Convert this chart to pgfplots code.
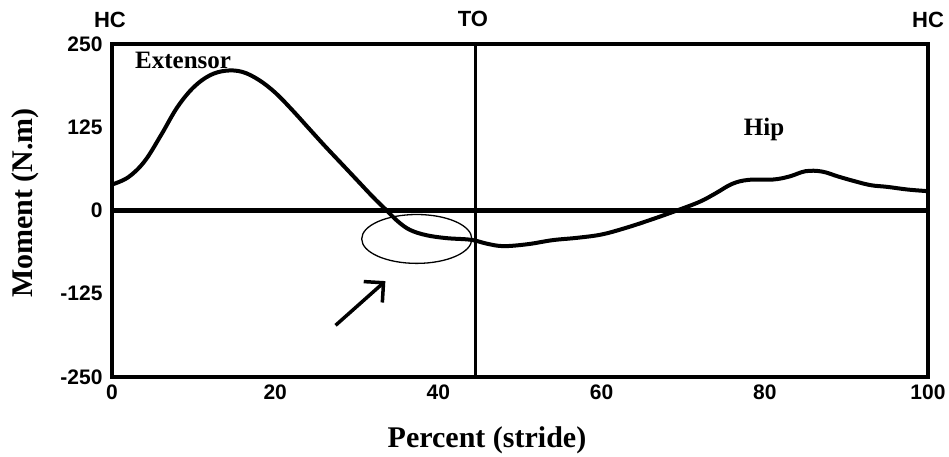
\documentclass[border=0pt]{standalone}
\usepackage{fontspec}
\setmainfont{Liberation Serif}
\newfontfamily\sansf{Liberation Sans}
\usepackage{pgfplots}
\pgfplotsset{compat=1.18}
\usetikzlibrary{arrows.meta}

\begin{document}
\begin{tikzpicture}
\begin{axis}[at={(0pt,0pt)}, anchor=south west, scale only axis,
  width=816pt, height=333pt,
  xmin=0, xmax=100, ymin=-250, ymax=250,
  xtick={0,20,40,60,80,100}, xticklabels={0,20,40,60,80,100},
  ytick={-250,-125,0,125,250}, yticklabels={-250,-125,0,125,250},
  major tick length=0pt,
  tick label style={font=\fontsize{21}{21}\selectfont\sansf\bfseries},
  xticklabel style={yshift=-4pt},
  yticklabel style={xshift=-6pt},
  axis line style={line width=3.5pt},
  clip=false,
]
% zero line
\addplot[black, line width=4.5pt] coordinates {(0,0) (100,0)};
% toe-off line
\addplot[black, line width=3pt] coordinates {(44.5,-250) (44.5,250)};
% hip moment
\addplot[black, line width=4pt, smooth, tension=0.6] coordinates {
(0,39) (2,50) (4,74) (6,113) (8,155) (10,185) (12,203) (14,210)
(16,208) (18,196) (20,177) (22,152) (24,125) (26,98) (28,72)
(30,46) (32,20) (33.5,2) (35,-16) (36.5,-29) (38.5,-37)
(41,-41.5) (44,-44) (46,-50) (48,-53.5) (51,-50.5) (54,-44.5)
(57,-41) (60,-36) (63,-26) (66,-14) (69,-1) (72,13) (74,26)
(76,40) (78,46) (81,46.5) (83,51) (85,59) (87,58.5) (89,51)
(91,44) (93,38) (95,35.5) (97.5,31.5) (100,29)};
% annotation
\draw[line width=1.3pt] (axis cs:37.35,-42.7) ellipse [x radius=6.75, y radius=36.7];
\draw[line width=3.5pt, -{Straight Barb[length=14pt,width=28pt]}]
  (axis cs:27.4,-172.4) -- (axis cs:33.5,-106);
\end{axis}
% labels
\node[rotate=90, font=\fontsize{30}{30}\selectfont\bfseries] at (-87pt,174pt) {Moment (N.m)};
\node[anchor=base, font=\fontsize{30}{30}\selectfont\bfseries] at (375pt,-70pt) {Percent (stride)};
\node[font=\fontsize{22}{22}\selectfont\sansf\bfseries] at (-2pt,357pt) {HC};
\node[font=\fontsize{22}{22}\selectfont\sansf\bfseries] at (361pt,358pt) {TO};
\node[font=\fontsize{22}{22}\selectfont\sansf\bfseries] at (816pt,357pt) {HC};
\node[anchor=base west, inner sep=0pt, font=\fontsize{25}{25}\selectfont\bfseries] at (23pt,309pt) {Extensor};
\node[anchor=base, inner sep=0pt, font=\fontsize{25}{25}\selectfont\bfseries] at (652pt,242pt) {Hip};
\pgfresetboundingbox
\useasboundingbox (-112pt,-79pt) rectangle (837pt,377pt);
\end{tikzpicture}
\end{document}
